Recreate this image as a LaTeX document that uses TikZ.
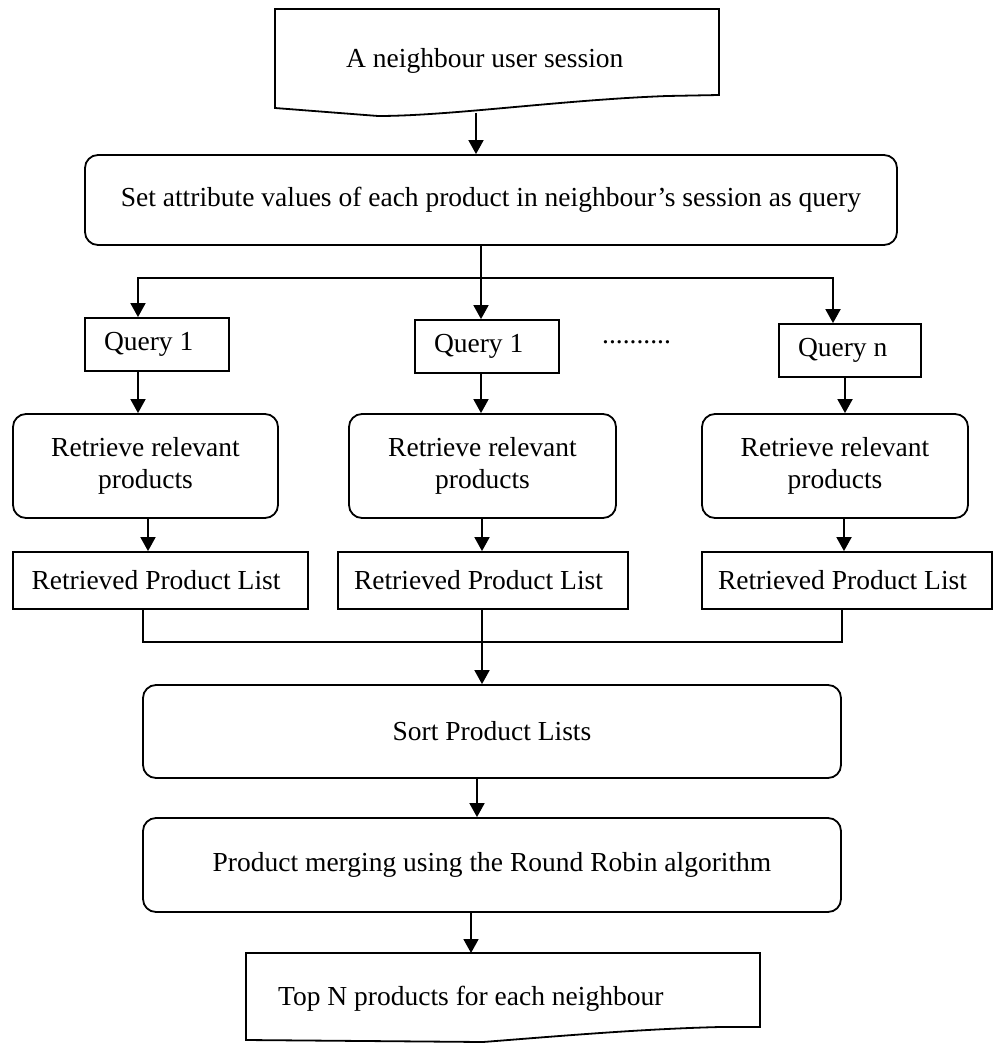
\documentclass[tikz,border=0pt]{standalone}
\usepackage{fontspec}
\setmainfont{Liberation Serif}
\usetikzlibrary{arrows.meta}
\begin{document}
\begin{tikzpicture}[x=1pt,y=-1pt,
  every node/.style={font=\fontsize{27.5pt}{31.6pt}\selectfont, inner sep=0pt},
  line/.style={line width=1.8pt},
  arr/.style={line width=1.8pt, -{Triangle[width=15pt,length=14pt]}},
  roundbox/.style={draw, line width=1.8pt, rounded corners=13pt, align=center},
  qbox/.style={draw, line width=1.8pt, align=flush left, minimum height=53pt, inner xsep=19pt, text width=#1},
  listbox/.style={draw, line width=1.8pt, align=flush left, minimum height=57pt, text width=258pt}]
\useasboundingbox (0,0) rectangle (993,1043);

% source document
\draw[line] (275,9) -- (719,9) -- (719,95) -- (667,96)
  .. controls (560,100) and (450,116) .. (378,116) -- (275,108) -- cycle;
\node[anchor=base west] (src) at (346,68) {A neighbour user session};
\coordinate (srcout) at (476,113);

% query construction
\node[roundbox, minimum width=812pt, minimum height=90pt] (set) at (491,200)
  {Set attribute values of each product in neighbour’s session as query};

% queries
\node[qbox=106pt] (q1) at (157,344.5) {Query 1};
\node[qbox=106pt] (q2) at (487,346.5) {Query 1};
\node[qbox=104pt] (qn) at (850,350.5) {Query n};
\node[anchor=base west] (dots) at (602,343) {..........};

% retrieval
\node[roundbox, minimum width=265pt, minimum height=104pt] (r1) at (145.5,466) {Retrieve relevant\\products};
\node[roundbox, minimum width=267pt, minimum height=104pt] (r2) at (482.5,466) {Retrieve relevant\\products};
\node[roundbox, minimum width=266pt, minimum height=104pt] (r3) at (835,466) {Retrieve relevant\\products};

% product lists
\node[listbox, inner xsep=18.5pt] (l1) at (160.5,580.5) {Retrieved Product List};
\node[listbox, inner xsep=16pt] (l2) at (483,580.5) {Retrieved Product List};
\node[listbox, inner xsep=16pt] (l3) at (847,580.5) {Retrieved Product List};

% sorting and merging
\node[roundbox, minimum width=698pt, minimum height=93pt] (sort) at (492,731.5) {Sort Product Lists};
\node[roundbox, minimum width=698pt, minimum height=94pt] (merge) at (492,865)
  {Product merging using the Round Robin algorithm};

% result document
\draw[line] (246,953) -- (760,953) -- (760,1027) -- (720,1027)
  .. controls (640,1029) and (560,1036) .. (483,1042) -- (246,1040) -- cycle;
\node[anchor=base west] (dst) at (278,1005) {Top N products for each neighbour};
\coordinate (dsttop) at (471,953);

% column guides for connectors
\coordinate (split) at (481,278);
\coordinate (ca) at (138,0);
\coordinate (cb) at (481,0);
\coordinate (cc) at (833,0);
\coordinate (cd) at (845,0);
\coordinate (ra) at (148,0);
\coordinate (rb) at (482,0);
\coordinate (rc) at (844,0);
\coordinate (la) at (143,0);
\coordinate (lc) at (842,0);
\coordinate (join) at (482,642);
\coordinate (sm) at (477,0);
\coordinate (md) at (471,0);

% connectors
\draw[arr] (srcout) -- (srcout |- set.north);
\draw[arr] (cb |- set.south) -- (cb |- q2.north);
\draw[arr] (split) -| (ca |- q1.north);
\draw[arr] (split) -| (cc |- qn.north);

\draw[arr] (ca |- q1.south) -- (ca |- r1.north);
\draw[arr] (cb |- q2.south) -- (cb |- r2.north);
\draw[arr] (cd |- qn.south) -- (cd |- r3.north);

\draw[arr] (ra |- r1.south) -- (ra |- l1.north);
\draw[arr] (rb |- r2.south) -- (rb |- l2.north);
\draw[arr] (rc |- r3.south) -- (rc |- l3.north);

\draw[line] (la |- l1.south) |- (join);
\draw[line] (lc |- l3.south) |- (join);
\draw[arr] (join |- l2.south) -- (join |- sort.north);

\draw[arr] (sm |- sort.south) -- (sm |- merge.north);
\draw[arr] (md |- merge.south) -- (dsttop);
\end{tikzpicture}
\end{document}
